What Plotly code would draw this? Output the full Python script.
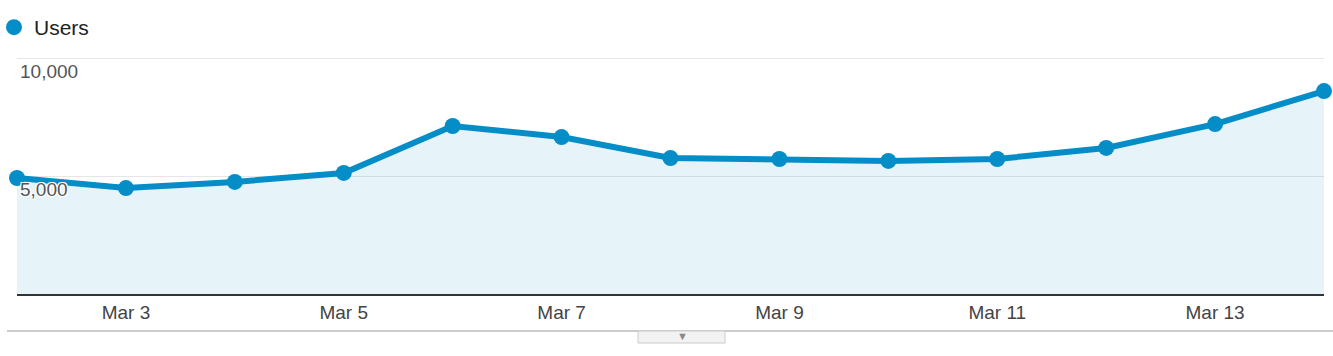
import plotly.graph_objects as go

dates = ["Mar 2", "Mar 3", "Mar 4", "Mar 5", "Mar 6", "Mar 7", "Mar 8",
         "Mar 9", "Mar 10", "Mar 11", "Mar 12", "Mar 13", "Mar 14"]
users = [4915, 4490, 4750, 5130, 7120, 6650, 5760, 5720, 5640, 5720, 6190, 7200, 8600]
x_ticks = ["Mar 3", "Mar 5", "Mar 7", "Mar 9", "Mar 11", "Mar 13"]
y_ticks = [5000, 10000]
y_tick_text = ["5,000", "10,000"]

W, H = 1333, 356
ML, MR, MT, MB = 17, 9, 56, 62
PW, PH = W - ML - MR, H - MT - MB

def px_x(p):  # page pixel -> paper x
    return (p - ML) / PW

def px_y(p):  # page pixel -> paper y
    return (H - MB - p) / PH

BLUE = "#058dc7"
FONT = "Liberation Sans, Arial, sans-serif"

fig = go.Figure()
fig.add_trace(go.Scatter(
    x=dates, y=users, mode="lines+markers", name="Users",
    line=dict(color=BLUE, width=6),
    marker=dict(color=BLUE, size=16),
    fill="tozeroy", fillcolor="rgba(5,141,199,0.10)",
    cliponaxis=False, showlegend=False,
))
fig.add_trace(go.Scatter(
    x=[None], y=[None], mode="markers", name="Users",
    marker=dict(color=BLUE, size=16), showlegend=True,
))

shapes = [
    dict(type="line", xref="paper", yref="paper",
         x0=px_x(7), x1=px_x(1333), y0=px_y(331), y1=px_y(331),
         line=dict(color="#cccccc", width=2)),
    dict(type="rect", xref="paper", yref="paper",
         x0=px_x(638), x1=px_x(725), y0=px_y(331), y1=px_y(343),
         fillcolor="#f2f2f2", line=dict(color="#cccccc", width=1)),
]
annotations = [
    dict(text="▼", xref="paper", yref="paper", x=px_x(683), y=px_y(336),
         showarrow=False, font=dict(size=11, color="#888888"),
         xanchor="center", yanchor="middle"),
]

fig.update_layout(
    width=W, height=H,
    margin=dict(l=ML, r=MR, t=MT, b=MB, autoexpand=False),
    paper_bgcolor="white", plot_bgcolor="white",
    font=dict(family=FONT, color="#444444"),
    showlegend=True,
    legend=dict(x=px_x(-6), y=px_y(7), xanchor="left", yanchor="top",
                font=dict(size=21, color="#222222"), itemwidth=30,
                bgcolor="rgba(0,0,0,0)"),
    xaxis=dict(
        type="category", range=[0, len(dates) - 1],
        tickvals=x_ticks, ticktext=x_ticks,
        showgrid=False, zeroline=False,
        showline=True, linecolor="#333333", linewidth=2,
        ticks="",
        tickfont=dict(size=19, color="#444444"),
    ),
    yaxis=dict(
        range=[0, 10085], tickvals=y_ticks, ticktext=y_tick_text,
        showgrid=True, gridcolor="#e6e6e6", gridwidth=1,
        zeroline=False, showline=False, ticks="",
        ticklabelposition="inside bottom",
        tickfont=dict(size=19, color="#555555",
                      shadow="1px 1px 0 white, -1px -1px 0 white, 1px -1px 0 white, -1px 1px 0 white"),
    ),
    shapes=shapes, annotations=annotations,
)

fig.write_html("out.html", config={"displayModeBar": False},
               post_script="document.body.style.margin='0px';document.body.style.padding='0px';")
